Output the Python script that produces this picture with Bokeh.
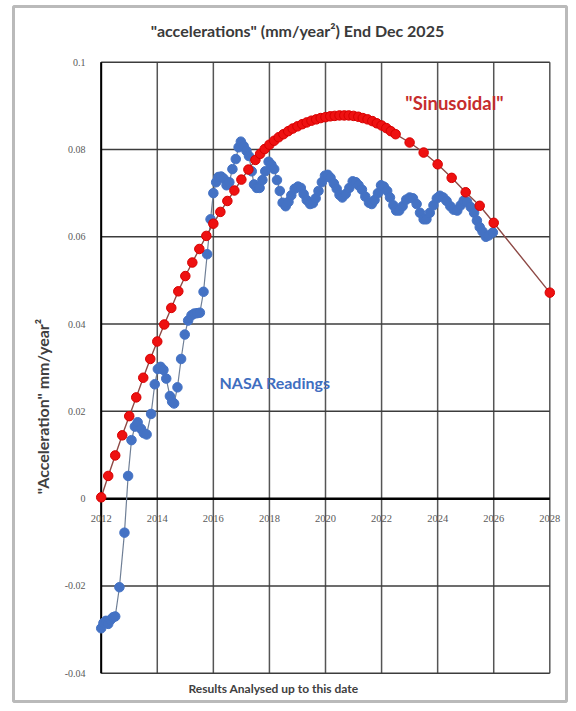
from bokeh.plotting import figure
from bokeh.models import ColumnDataSource, Label, LabelSet, BoxAnnotation
from bokeh.embed import file_html
from bokeh.resources import INLINE
import math

title_text = '"accelerations" (mm/year\u00b2) End Dec 2025'
x_title = "Results Analysed up to this date"
y_title = '"Acceleration" mm/year\u00b2'
nasa_label = "NASA Readings"
sin_label = '"Sinusoidal"'

x_ticks = [2012, 2014, 2016, 2018, 2020, 2022, 2024, 2026, 2028]
x_tick_labels = ["2012", "2014", "2016", "2018", "2020", "2022", "2024", "2026", "2028"]
y_ticks = [-0.04, -0.02, 0.0, 0.02, 0.04, 0.06, 0.08, 0.1]
y_tick_labels = ["-0.04", "-0.02", "0", "0.02", "0.04", "0.06", "0.08", "0.1"]

nasa_year = [
    2012.00, 2012.08, 2012.17, 2012.25, 2012.33, 2012.42, 2012.50, 2012.65, 2012.83, 2012.96,
    2013.08, 2013.20, 2013.30, 2013.42, 2013.52, 2013.62, 2013.78, 2013.91, 2014.02, 2014.12,
    2014.22, 2014.32, 2014.45, 2014.53, 2014.60, 2014.72, 2014.85, 2014.98, 2015.10, 2015.22,
    2015.32, 2015.42, 2015.52, 2015.65, 2015.78, 2015.90, 2016.00, 2016.10, 2016.18, 2016.28,
    2016.37, 2016.47, 2016.57, 2016.68, 2016.80, 2016.90, 2016.98, 2017.08, 2017.18, 2017.27,
    2017.37, 2017.45, 2017.55, 2017.65, 2017.75, 2017.85, 2017.97, 2018.07, 2018.17, 2018.27,
    2018.37, 2018.47, 2018.58, 2018.68, 2018.78, 2018.90, 2019.02, 2019.12, 2019.22, 2019.33,
    2019.45, 2019.55, 2019.65, 2019.75, 2019.87, 2019.98, 2020.08, 2020.18, 2020.30, 2020.40,
    2020.50, 2020.60, 2020.72, 2020.85, 2020.97, 2021.08, 2021.18, 2021.30, 2021.42, 2021.55,
    2021.65, 2021.75, 2021.87, 2021.98, 2022.08, 2022.20, 2022.30, 2022.42, 2022.52, 2022.63,
    2022.75, 2022.88, 2023.00, 2023.12, 2023.25, 2023.37, 2023.50, 2023.60, 2023.72, 2023.85,
    2023.97, 2024.08, 2024.20, 2024.32, 2024.45, 2024.57, 2024.70, 2024.82, 2024.93, 2025.05,
    2025.18, 2025.30, 2025.40, 2025.50, 2025.60, 2025.72, 2025.82, 2025.97,
]
nasa_accel = [
    -0.0297, -0.0285, -0.0280, -0.0287, -0.0278, -0.0272, -0.0270, -0.0203, -0.0078, 0.0052,
    0.0134, 0.0165, 0.0175, 0.0160, 0.0150, 0.0147, 0.0194, 0.0262, 0.0297, 0.0302,
    0.0295, 0.0275, 0.0235, 0.0222, 0.0218, 0.0255, 0.0320, 0.0376, 0.0408, 0.0420,
    0.0424, 0.0425, 0.0426, 0.0474, 0.0560, 0.0640, 0.0700, 0.0725, 0.0737, 0.0738,
    0.0733, 0.0718, 0.0725, 0.0755, 0.0778, 0.0805, 0.0818, 0.0808, 0.0797, 0.0785,
    0.0750, 0.0720, 0.0712, 0.0712, 0.0730, 0.0750, 0.0772, 0.0765, 0.0755, 0.0730,
    0.0705, 0.0678, 0.0670, 0.0680, 0.0695, 0.0710, 0.0715, 0.0712, 0.0698, 0.0684,
    0.0675, 0.0677, 0.0688, 0.0705, 0.0725, 0.0740, 0.0742, 0.0735, 0.0722, 0.0710,
    0.0696, 0.0690, 0.0698, 0.0712, 0.0727, 0.0725, 0.0718, 0.0708, 0.0692, 0.0678,
    0.0675, 0.0684, 0.0700, 0.0718, 0.0715, 0.0705, 0.0690, 0.0672, 0.0660, 0.0660,
    0.0670, 0.0685, 0.0690, 0.0688, 0.0675, 0.0655, 0.0640, 0.0640, 0.0655, 0.0672,
    0.0688, 0.0694, 0.0690, 0.0682, 0.0670, 0.0662, 0.0660, 0.0672, 0.0683, 0.0680,
    0.0668, 0.0655, 0.0637, 0.0622, 0.0612, 0.0600, 0.0603, 0.0610,
]

sin_year = [
    2012.00, 2012.25, 2012.50, 2012.75, 2013.00, 2013.25, 2013.50, 2013.75, 2014.00, 2014.25,
    2014.50, 2014.75, 2015.00, 2015.25, 2015.50, 2015.75, 2016.00, 2016.25, 2016.50, 2016.75,
    2017.00, 2017.25, 2017.50, 2017.67, 2017.83, 2018.00, 2018.17, 2018.33, 2018.50, 2018.67,
    2018.83, 2019.00, 2019.17, 2019.33, 2019.50, 2019.67, 2019.83, 2020.00, 2020.17, 2020.33,
    2020.50, 2020.67, 2020.83, 2021.00, 2021.17, 2021.33, 2021.50, 2021.67, 2021.83, 2022.00,
    2022.17, 2022.33, 2022.50, 2023.00, 2023.50, 2024.00, 2024.50, 2025.00, 2025.50, 2026.00,
    2028.00,
]
sin_accel = [
    0.0003, 0.0052, 0.0099, 0.0145, 0.0189, 0.0232, 0.0277, 0.0320, 0.0360, 0.0399,
    0.0437, 0.0475, 0.0510, 0.0541, 0.0572, 0.0602, 0.0630, 0.0657, 0.0682, 0.0706,
    0.0731, 0.0754, 0.0776, 0.0790, 0.0801, 0.0811, 0.0820, 0.0828, 0.0835, 0.0842,
    0.0848, 0.0853, 0.0858, 0.0862, 0.0866, 0.0869, 0.0872, 0.0874, 0.0876, 0.0877,
    0.0878, 0.0878, 0.0878, 0.0877, 0.0875, 0.0872, 0.0869, 0.0865, 0.0860, 0.0855,
    0.0849, 0.0842, 0.0835, 0.0816, 0.0793, 0.0766, 0.0735, 0.0702, 0.0671, 0.0632,
    0.0472,
]

FONT = "Lato"

# ---- layout: the whole canvas is the frame; the plot area sits at these pixel edges ----
W, H = 568, 703
PL, PR, PT, PB = 100.7, 549.3, 61.7, 672.7
x0, x1 = x_ticks[0], x_ticks[-1]
y0, y1 = y_ticks[0], y_ticks[-1]
xs = (x1 - x0) / (PR - PL)
ys = (y1 - y0) / (PB - PT)


def px2x(px):
    return x0 + (px - PL) * xs


def py2y(py):
    return y1 - (py - PT) * ys


p = figure(
    width=W, height=H,
    x_range=(px2x(0), px2x(W)), y_range=(py2y(H), py2y(0)),
    output_backend="svg", toolbar_location=None,
    x_axis_location=None, y_axis_location=None,
    min_border=0, min_border_left=0, min_border_right=0, min_border_top=0, min_border_bottom=0,
)
p.background_fill_color = "white"
p.border_fill_color = "white"
p.outline_line_color = None
for g in p.grid:
    g.visible = False

# outer chart border
p.add_layout(BoxAnnotation(left=px2x(13), right=px2x(566), top=py2y(6), bottom=py2y(701),
                           fill_color=None, line_color="#1a1a1a", line_width=3))

# grid lines limited to the plot area
nx, ny = len(x_ticks), len(y_ticks)
p.segment(x0=x_ticks, y0=[y0] * nx, x1=x_ticks, y1=[y1] * nx, line_color="#555555", line_width=1.5)
p.segment(x0=[x0] * ny, y0=y_ticks, x1=[x1] * ny, y1=y_ticks, line_color="#3c3c3c", line_width=1.5)
# emphasised zero line and left axis line
p.segment(x0=[x0], y0=[0.0], x1=[x1], y1=[0.0], line_color="black", line_width=2.5)
p.segment(x0=[x0], y0=[y0], x1=[x0], y1=[y1], line_color="black", line_width=2)

nasa_src = ColumnDataSource(dict(x=nasa_year, y=nasa_accel))
sin_src = ColumnDataSource(dict(x=sin_year, y=sin_accel))

p.line("x", "y", source=nasa_src, line_color="#6f7f96", line_width=1.2)
p.scatter("x", "y", source=nasa_src, size=9.5, fill_color="#4472C4", line_color="#4472C4")
p.line("x", "y", source=sin_src, line_color="#8e4a46", line_width=1.4)
p.scatter("x", "y", source=sin_src, size=9.5, fill_color="#EE1111", line_color="#D80000")

# x tick labels sitting just under the zero line
xt_src = ColumnDataSource(dict(x=x_ticks, y=[py2y(518)] * nx, text=x_tick_labels))
p.add_layout(LabelSet(x="x", y="y", text="text", source=xt_src, text_align="center",
                      text_baseline="middle", text_font=FONT, text_font_size="10.5px",
                      text_color="#595959"))
# y tick labels
yt_src = ColumnDataSource(dict(x=[px2x(85)] * ny, y=y_ticks, text=y_tick_labels))
p.add_layout(LabelSet(x="x", y="y", text="text", source=yt_src, text_align="right",
                      text_baseline="middle", text_font=FONT, text_font_size="10px",
                      text_color="#595959"))

p.add_layout(Label(x=px2x(297), y=py2y(30), text=title_text, text_align="center", text_baseline="middle",
                   text_font=FONT, text_font_style="bold", text_font_size="16px", text_color="#3a3a3a"))
p.add_layout(Label(x=px2x(273), y=py2y(688), text=x_title, text_align="center", text_baseline="middle",
                   text_font=FONT, text_font_style="bold", text_font_size="12px", text_color="#404040"))
p.add_layout(Label(x=px2x(42), y=py2y(406), text=y_title, text_align="center", text_baseline="middle",
                   angle=math.pi / 2, text_font=FONT, text_font_style="bold", text_font_size="16px",
                   text_color="#404040"))
p.add_layout(Label(x=px2x(219), y=py2y(382), text=nasa_label, text_align="left", text_baseline="middle",
                   text_font=FONT, text_font_style="bold", text_font_size="16px", text_color="#3F6EBF"))
p.add_layout(Label(x=px2x(454), y=py2y(102), text=sin_label, text_align="center", text_baseline="middle",
                   text_font=FONT, text_font_style="bold", text_font_size="18.5px", text_color="#C62D2D"))

open("out.html", "w").write(file_html(p, INLINE))
